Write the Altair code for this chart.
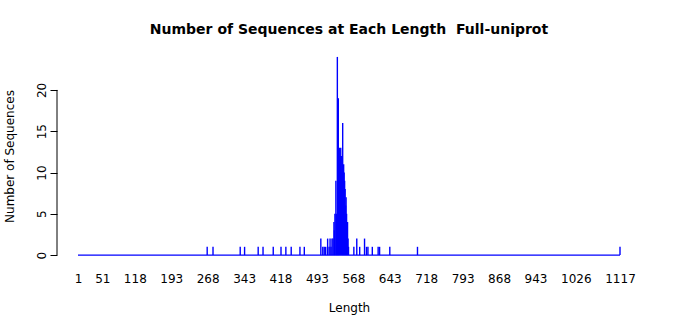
import altair as alt
import pandas as pd

# Sequence length -> number of sequences
lengths = [267, 279, 335, 344, 372, 382, 403, 419, 429, 440, 458, 467,
           501, 505, 508, 511, 515, 518, 520, 522, 524, 526, 528, 529, 530,
           532, 533, 535, 536, 537, 538, 539, 540, 541, 542, 543, 544, 545,
           546, 547, 548, 549, 550, 551, 552, 553, 554, 555, 556, 557, 558,
           569, 575, 581, 591, 595, 598, 607, 619, 622, 643, 700, 1117]
counts = [1, 1, 1, 1, 1, 1, 1, 1, 1, 1, 1, 1,
          2, 1, 1, 1, 2, 1, 2, 1, 2, 2, 4, 3, 5,
          9, 5, 24, 12, 19, 9, 13, 11, 12, 13, 10, 12, 9,
          16, 10, 11, 10, 9, 8, 6, 7, 5, 4, 4, 2, 1,
          1, 2, 1, 2, 1, 1, 1, 1, 1, 1, 1, 1]

x_tick_values = [1, 51, 118, 193, 268, 343, 418, 493, 568, 643, 718, 793,
                 868, 943, 1026, 1117]
y_tick_values = [0, 5, 10, 15, 20]
length_min, length_max = 1, 1117

df = pd.DataFrame({"Length": lengths, "Count": counts})
base_df = pd.DataFrame({"Length": [length_min], "x2": [length_max], "Count": [0]})
axis_df = pd.DataFrame({"Count": [y_tick_values[0]], "y2": [y_tick_values[-1]]})

xscale = alt.Scale(domain=[length_min - 43.24, length_max + 43.24], nice=False, zero=False)
yscale = alt.Scale(domain=[-0.96, 24.96], nice=False, zero=False)

FONT = "DejaVu Sans"
BLUE = "#0000ff"

x_axis = alt.Axis(values=x_tick_values, title="Length", ticks=False, format="d",
                  domain=False, grid=False, labelPadding=10,
                  titlePadding=18, labelFlush=False, labelOverlap=False)
y_axis = alt.Axis(values=y_tick_values, title="Number of Sequences", format="d",
                  domain=False, grid=False, tickSize=7, labelAngle=-90,
                  labelPadding=2, titlePadding=19)

bars = alt.Chart(df).mark_rule(color=BLUE, strokeWidth=1.4).encode(
    x=alt.X("Length:Q", scale=xscale, axis=x_axis),
    y=alt.Y("Count:Q", scale=yscale, axis=y_axis),
    y2=alt.datum(0),
)

baseline = alt.Chart(base_df).mark_rule(color=BLUE, strokeWidth=1.2).encode(
    x=alt.X("Length:Q", scale=xscale, axis=x_axis),
    x2="x2:Q",
    y=alt.Y("Count:Q", scale=yscale, axis=y_axis),
)

yaxis_line = alt.Chart(axis_df).mark_rule(color="black", strokeWidth=1).encode(
    x=alt.value(0),
    y=alt.Y("Count:Q", scale=yscale, axis=y_axis),
    y2="y2:Q",
)

chart = alt.layer(bars, baseline, yaxis_line).properties(
    width=584,
    height=214,
    autosize="none",
    padding={"left": 57, "top": 49, "right": 59, "bottom": 52},
    background="white",
    title=alt.TitleParams(
        "Number of Sequences at Each Length\u00a0 Full-uniprot",
        fontSize=14, fontWeight="bold", font=FONT, anchor="middle",
        offset=12, color="black"),
).configure_view(stroke=None).configure_axis(
    labelFont=FONT, titleFont=FONT, labelFontSize=12, titleFontSize=12,
    labelColor="black", titleColor="black", tickColor="black",
    titleFontWeight="normal",
)

chart.save("out.html", embed_options={"renderer": "svg", "actions": False})
